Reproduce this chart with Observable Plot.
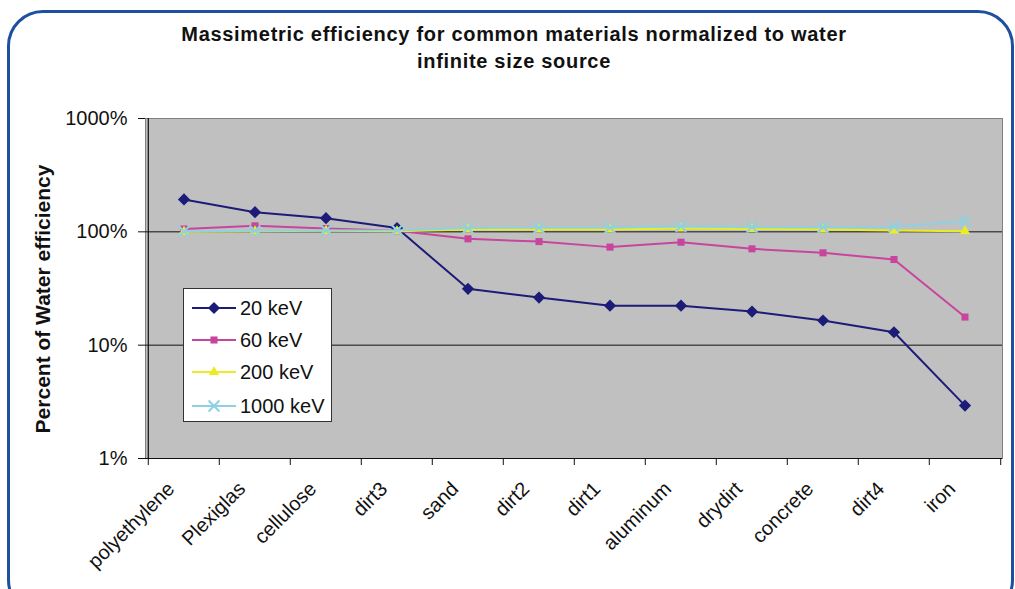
<!DOCTYPE html>
<html>
<head>
<meta charset="utf-8">
<script src="https://cdn.jsdelivr.net/npm/d3@7"></script>
<script src="https://cdn.jsdelivr.net/npm/@observablehq/plot@0.6"></script>
<style>
  html, body { margin: 0; padding: 0; background: #fff; }
  #wrap { position: relative; width: 1015px; height: 589px; overflow: hidden; background: #fff; font-family: "Liberation Sans", Arial, sans-serif; }
  #border { position: absolute; left: 7px; top: 10px; width: 1001px; height: 600px; border: 3px solid #1f4f9f; border-radius: 36px; box-sizing: content-box; }
  #chart { position: absolute; left: 0; top: 0; }
  #title { position: absolute; left: 14px; width: 1000px; top: 21px; text-align: center; font-weight: bold; font-size: 20px; letter-spacing: 0.7px; line-height: 27px; color: #111; }
  #ylabel { position: absolute; left: 43px; top: 299px; transform: translate(-50%, -50%) rotate(-90deg); white-space: nowrap; font-weight: bold; font-size: 21px; color: #111; }
  #legend { position: absolute; left: 183px; top: 288px; width: 147px; height: 132px; background: #fff; border: 1px solid #333; }
  .item { position: absolute; left: 6px; height: 26px; display: flex; align-items: center; font-size: 20px; color: #111; }
  .item svg { margin-right: 2px; }
</style>
</head>
<body>
<div id="wrap">
  <div id="border"></div>
  <div id="chart"></div>
  <div id="title">Massimetric efficiency for common materials normalized to water<br>infinite size source</div>
  <div id="ylabel">Percent of Water efficiency</div>
  <div id="legend"></div>
</div>
<script>
const categories = ["polyethylene", "Plexiglas", "cellulose", "dirt3", "sand", "dirt2", "dirt1", "aluminum", "drydirt", "concrete", "dirt4", "iron"];
const seriesNames = ["20 keV", "60 keV", "200 keV", "1000 keV"];
const kev20 = [193, 149, 132, 108, 31.4, 26.3, 22.3, 22.3, 19.8, 16.5, 13.0, 2.93];
const kev60 = [106, 113, 107, 102, 86.7, 82, 73.3, 81, 70.8, 65.3, 57, 17.7];
const kev200 = [100, 101, 102, 101, 105, 105, 105, 107, 106, 105, 103, 101];
const kev1000 = [101, 102, 103, 103, 108, 109, 109, 112, 110, 110, 111, 124];
const yTicks = [1, 10, 100, 1000];
const colors = ["#1c1c78", "#c8459d", "#ecec22", "#8fd0e3"];
const symbols = ["diamond2", "square2", "triangle2", "times"];
const sizes = [5.5, 4.5, 5, 5];

const values = [kev20, kev60, kev200, kev1000];
const data = seriesNames.map((name, s) => categories.map((c, i) => ({ material: c, value: values[s][i], series: name })));

const W = 1015, H = 589, ML = 145, MR = 13, MT = 118, MB = 131;
const step = (W - ML - MR) / categories.length;

const seriesMarks = [];
data.forEach((rows, s) => {
  seriesMarks.push(Plot.line(rows, { x: "material", y: "value", stroke: colors[s], strokeWidth: 2 }));
  if (symbols[s] === "times") {
    seriesMarks.push(Plot.dot(rows, { x: "material", y: "value", symbol: symbols[s], r: sizes[s], stroke: colors[s], strokeWidth: 2 }));
  } else {
    seriesMarks.push(Plot.dot(rows, { x: "material", y: "value", symbol: symbols[s], r: sizes[s], fill: colors[s], stroke: "none" }));
  }
});

const chart = Plot.plot({
  width: W, height: H,
  marginLeft: ML, marginRight: MR, marginTop: MT, marginBottom: MB,
  style: { fontFamily: "'Liberation Sans', Arial, sans-serif", background: "transparent", color: "#111", overflow: "visible" },
  x: { type: "band", domain: categories, padding: 0, label: null },
  y: { type: "log", domain: [1, 1000], label: null },
  marks: [
    Plot.frame({ fill: "#c0c0c0", stroke: "#808080" }),
    Plot.ruleY([10, 100], { stroke: "#111", strokeWidth: 1 }),
    Plot.ruleY([1], { stroke: "#111", strokeWidth: 1.2 }),
    Plot.ruleX([categories[0]], { y1: 1, y2: 1000, dx: -step / 2, stroke: "#111", strokeWidth: 1.2 }),
    Plot.axisY({ ticks: yTicks, tickFormat: d => d + "%", tickSize: 7, tickPadding: 11, fontSize: 20, label: null, stroke: "#111" }),
    Plot.axisX({ tickSize: 7, tickFormat: () => "", dx: -step / 2, label: null, stroke: "#111" }),
    Plot.axisX({ ticks: [categories[categories.length - 1]], tickSize: 7, tickFormat: () => "", dx: step / 2, label: null, stroke: "#111" }),
    Plot.axisX({ tickSize: 0, tickRotate: -45, tickPadding: 27, dx: -13, fontSize: 20, label: null }),
    ...seriesMarks
  ]
});
document.getElementById("chart").appendChild(chart);

// legend
const legend = document.getElementById("legend");
const legendTops = [6, 38, 70, 104];
seriesNames.forEach((name, s) => {
  const item = document.createElement("div");
  item.className = "item";
  item.style.top = legendTops[s] + "px";
  const svg = d3.create("svg").attr("width", 48).attr("height", 20);
  svg.append("line").attr("x1", 2).attr("x2", 46).attr("y1", 10).attr("y2", 10).attr("stroke", colors[s]).attr("stroke-width", 2);
  const sym = d3.symbol().type(
    symbols[s] === "diamond2" ? d3.symbolDiamond2 :
    symbols[s] === "square2" ? d3.symbolSquare2 :
    symbols[s] === "triangle2" ? d3.symbolTriangle2 : d3.symbolTimes
  ).size(Math.PI * sizes[s] * sizes[s]);
  const p = svg.append("path").attr("d", sym()).attr("transform", "translate(24,10)");
  if (symbols[s] === "times") p.attr("fill", "none").attr("stroke", colors[s]).attr("stroke-width", 2);
  else p.attr("fill", colors[s]);
  item.appendChild(svg.node());
  const t = document.createElement("span");
  t.textContent = name;
  item.appendChild(t);
  legend.appendChild(item);
});
</script>
</body>
</html>
